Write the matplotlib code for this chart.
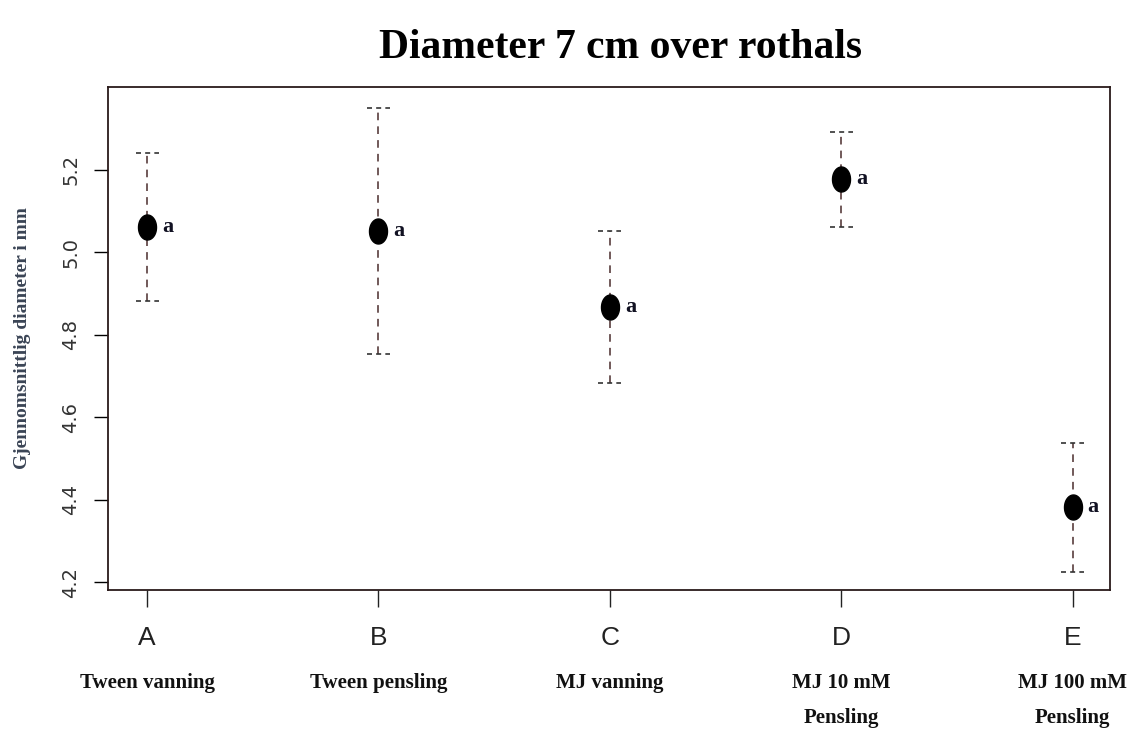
import numpy as np
import matplotlib
matplotlib.use("Agg")
import matplotlib.pyplot as plt
from matplotlib.path import Path

# data
groups = ["A", "B", "C", "D", "E"]
treatments = ["Tween vanning", "Tween pensling", "MJ vanning",
              "MJ 10 mM\nPensling", "MJ 100 mM\nPensling"]
means = [5.062, 5.052, 4.867, 5.178, 4.382]
upper = [5.241, 5.350, 5.052, 5.292, 4.537]
lower = [4.882, 4.753, 4.683, 5.062, 4.224]
letters = ["a", "a", "a", "a", "a"]

x = np.arange(1, len(groups) + 1)

# slightly tall oval marker like the original
t = np.linspace(0, 2 * np.pi, 60)
oval = Path(np.column_stack([0.72 * np.cos(t), np.sin(t)]), closed=True)

fig = plt.figure(figsize=(11.33, 7.31), dpi=100)
ax = fig.add_axes([0.0953, 0.193, 0.884, 0.688])

bar_col = "#4a2c2c"
ax.vlines(x, lower, upper, colors=bar_col, linestyles=(0, (5, 4)), linewidth=1.1)
ax.hlines(upper, x - 0.05, x + 0.05, colors="#333333", linestyles=(0, (3, 2.5)), linewidth=1.2)
ax.hlines(lower, x - 0.05, x + 0.05, colors="#333333", linestyles=(0, (3, 2.5)), linewidth=1.2)
ax.plot(x, means, linestyle="none", marker=oval, markersize=18, color="black")

for xi, m, lt in zip(x, means, letters):
    ax.text(xi + 0.065, m, lt, fontsize=16, fontweight="bold", family="Liberation Serif",
            va="center", ha="left", color="#111122")

ax.set_xlim(0.831, 5.16)
ax.set_ylim(4.181, 5.401)
ax.set_yticks([4.2, 4.4, 4.6, 4.8, 5.0, 5.2])
ax.set_yticklabels(["4.2", "4.4", "4.6", "4.8", "5.0", "5.2"], rotation=90, va="center")
ax.set_xticks(x)
ax.set_xticklabels(groups, family="Liberation Sans", fontsize=19)
ax.tick_params(axis="x", length=12, width=1, pad=14, colors="#222222")
ax.tick_params(axis="y", length=10, width=1, pad=10, labelsize=14, labelcolor="#333333")

for s in ax.spines.values():
    s.set_color("#2a1a1a")
    s.set_linewidth(1.3)

for xi, tr in zip(x, treatments):
    ax.annotate(tr, xy=(xi, 0), xycoords=("data", "axes fraction"),
                xytext=(0, -60), textcoords="offset points", ha="center", va="top",
                fontsize=15, fontweight="bold", family="Liberation Serif",
                linespacing=2.0, color="#111111")

ax.set_ylabel("Gjennomsnittlig diameter i mm", fontsize=14, fontweight="bold",
              family="Liberation Serif", color="#3a4455", labelpad=22)

fig.text(0.548, 0.935, "Diameter 7 cm over rothals", ha="center", va="center",
         fontsize=30, fontweight="bold", family="Liberation Serif")

fig.savefig("out.png", dpi=100)
